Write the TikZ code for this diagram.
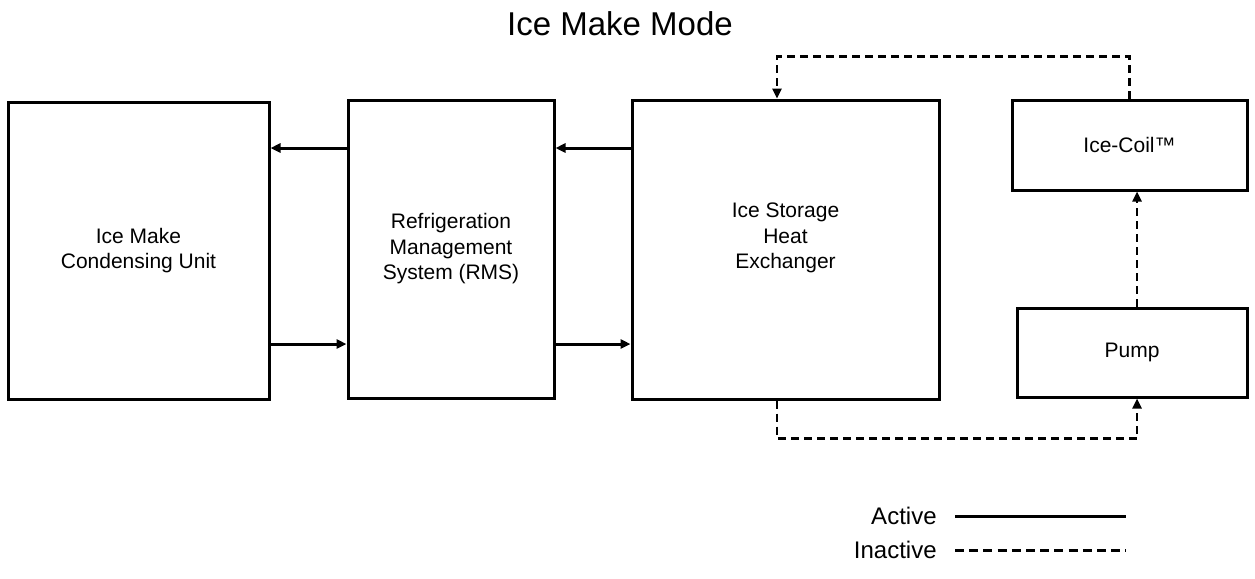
\documentclass[tikz,border=0pt]{standalone}
\usepackage{fontspec}
\setmainfont{Liberation Sans}
\usetikzlibrary{arrows.meta}

\begin{document}
\begin{tikzpicture}[x=0.5pt,y=-0.5pt,
    block/.style={draw, line width=1.5pt, inner sep=0pt, align=center, font=\fontsize{10.5}{12.75}\selectfont},
    boxtext/.style={inner sep=0pt, align=center, font=\fontsize{10.5}{12.75}\selectfont},
    flow/.style={line width=1.5pt, -{Triangle[length=5pt,width=4.5pt]}},
    idle/.style={line width=1.2pt, -{Triangle[length=5pt,width=4.5pt]}, dash pattern=on 4pt off 2.5pt},
    legendtext/.style={inner sep=0pt, anchor=east, font=\fontsize{12}{14}\selectfont}]
    \useasboundingbox (0,0) rectangle (1255,579);
    % Title
    \node[font=\fontsize{16.5}{19}\selectfont] (title) at (620,24) {Ice Make Mode};
    % Main blocks
    \node[block, minimum width=130.5pt, minimum height=148.5pt] (cond) at (138.5,250.5) {Ice Make\\Condensing Unit};
    \node[block, minimum width=103pt, minimum height=149pt] (rms) at (451,249) {Refrigeration\\Management\\System (RMS)};
    \node[block, minimum width=153.5pt, minimum height=149.5pt] (hx) at (785.5,249.5) {};
    \node[boxtext] (hxtext) at (785.5,238) {Ice Storage\\Heat\\Exchanger};
    \node[block, minimum width=117.5pt, minimum height=45pt] (coil) at (1129.5,145) {Ice-Coil™};
    \node[block, minimum width=115pt, minimum height=44.5pt] (pump) at (1132,352.5) {Pump};
    % Rows of the refrigerant lines
    \coordinate (upper) at (0,148);
    \coordinate (lower) at (0,344);
    % Active lines
    \draw[flow] (hx.west |- upper) -- (rms.east |- upper);
    \draw[flow] (rms.west |- upper) -- (cond.east |- upper);
    \draw[flow] (cond.east |- lower) -- (rms.west |- lower);
    \draw[flow] (rms.east |- lower) -- (hx.west |- lower);
    % Inactive loop
    \draw[idle] ([xshift=-4.25pt]hx.south) -- ++(0,-19pt) -| ([xshift=2.5pt]pump.south);
    \draw[idle] ([xshift=2.5pt]pump.north) -- ([xshift=2.5pt]pump.north |- coil.south);
    \draw[idle] (coil.north) -- ++(0,21pt) -| ([xshift=-4.25pt]hx.north);
    % Legend
    \node[legendtext] (active) at (937,516) {Active};
    \node[legendtext] (inactive) at (937,550) {Inactive};
    \coordinate (activeend) at (1126,516);
    \coordinate (inactiveend) at (1126,550);
    \draw[line width=1.5pt] ([xshift=9pt]active.east) -- (activeend);
    \draw[line width=1.5pt, dash pattern=on 4.5pt off 2.6pt] ([xshift=9pt]inactive.east) -- (inactiveend);
\end{tikzpicture}
\end{document}
